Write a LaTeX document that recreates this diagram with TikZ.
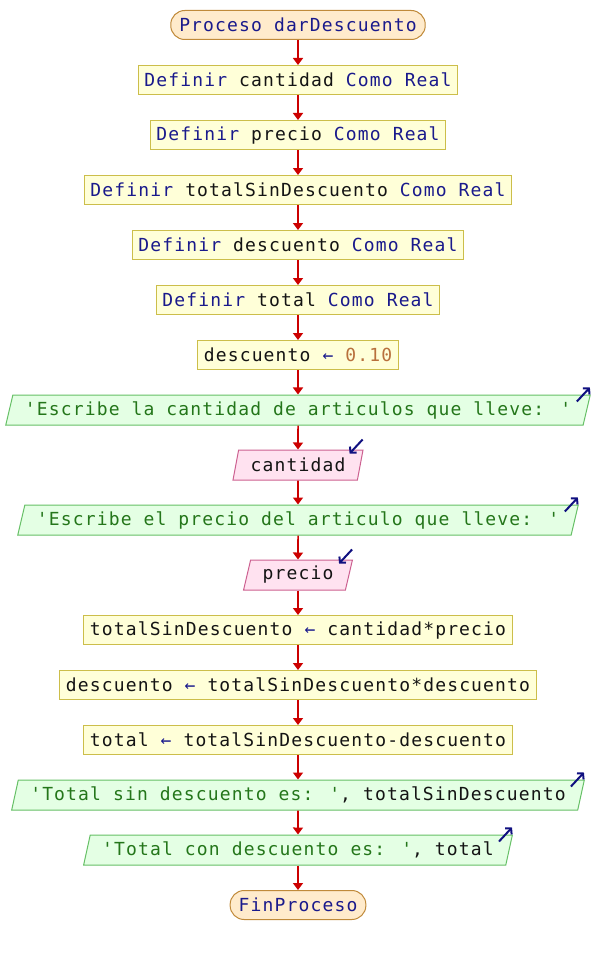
\documentclass[tikz,border=0pt]{standalone}
\usepackage{fontspec}
\usetikzlibrary{shapes.geometric,arrows.meta}
\newfontfamily\codefont[LetterSpace=6.4]{DejaVu Sans Mono}
\definecolor{kwc}{HTML}{1A1A8C}
\definecolor{strc}{HTML}{24761A}
\definecolor{numc}{HTML}{B8703C}
\definecolor{idc}{HTML}{141414}
\definecolor{procfill}{HTML}{FFFFD8}
\definecolor{procdraw}{HTML}{CCBE4A}
\definecolor{termfill}{HTML}{FFEBCC}
\definecolor{termdraw}{HTML}{C08A3A}
\definecolor{outfill}{HTML}{E4FFE4}
\definecolor{outdraw}{HTML}{66C066}
\definecolor{infill}{HTML}{FFE2F0}
\definecolor{indraw}{HTML}{CC6090}
\definecolor{flowc}{HTML}{CC0000}
\definecolor{ioarrow}{HTML}{101080}
\newcommand{\kw}[1]{\textcolor{kwc}{#1}}
\newcommand{\strg}[1]{\textcolor{strc}{#1}}
\newcommand{\numb}[1]{\textcolor{numc}{#1}}
\newcommand{\asg}{\textcolor{kwc}{←}}
\begin{document}
\begin{tikzpicture}[x=1pt,y=-1pt,
  every node/.style={font=\codefont\fontsize{18}{20}\selectfont, text=idc},
  procbox/.style={draw=procdraw, fill=procfill, line width=1pt, minimum height=29pt, inner xsep=6pt, inner ysep=0pt},
  termbox/.style={draw=termdraw, fill=termfill, line width=1pt, rounded corners=14pt, minimum height=29pt, inner xsep=8.5pt, inner ysep=0pt},
  iobox/.style={trapezium, trapezium stretches=true, trapezium left angle=68, trapezium right angle=112, line width=1pt, minimum height=30pt, inner xsep=12pt, inner ysep=0pt},
  outbox/.style={iobox, draw=outdraw, fill=outfill},
  inbox/.style={iobox, draw=indraw, fill=infill},
  flow/.style={draw=flowc, line width=1.6pt, -{Triangle[width=10pt,length=7pt]}},
  ioarr/.style={draw=ioarrow, line width=2pt, -{Straight Barb[length=4pt,width=9pt]}}
]
\useasboundingbox (0,0) rectangle (596,955);
\node[termbox] (n1) at (298,25) {\kw{Proceso darDescuento}};
\node[procbox] (n2) at (298,80) {\kw{Definir} cantidad \kw{Como} \kw{Real}};
\node[procbox] (n3) at (298,135) {\kw{Definir} precio \kw{Como} \kw{Real}};
\node[procbox] (n4) at (298,190) {\kw{Definir} totalSinDescuento \kw{Como} \kw{Real}};
\node[procbox] (n5) at (298,245) {\kw{Definir} descuento \kw{Como} \kw{Real}};
\node[procbox] (n6) at (298,300) {\kw{Definir} total \kw{Como} \kw{Real}};
\node[procbox] (n7) at (298,355) {descuento \asg{} \numb{0.10}};
\node[outbox] (n8) at (298,410) {\strg{'Escribe la cantidad de articulos que lleve: '}};
\node[inbox] (n9) at (298,465) {cantidad};
\node[outbox] (n10) at (298,520) {\strg{'Escribe el precio del articulo que lleve: '}};
\node[inbox] (n11) at (298,575) {precio};
\node[procbox] (n12) at (298,630) {totalSinDescuento \asg{} cantidad*precio};
\node[procbox] (n13) at (298,685) {descuento \asg{} totalSinDescuento*descuento};
\node[procbox] (n14) at (298,740) {total \asg{} totalSinDescuento-descuento};
\node[outbox] (n15) at (298,795) {\strg{'Total sin descuento es: '}, totalSinDescuento};
\node[outbox] (n16) at (298,850) {\strg{'Total con descuento es: '}, total};
\node[termbox] (n17) at (298,905) {\kw{FinProceso}};
\foreach \a/\b in {n1/n2,n2/n3,n3/n4,n4/n5,n5/n6,n6/n7,n7/n8,n8/n9,n9/n10,n10/n11,n11/n12,n12/n13,n13/n14,n14/n15,n15/n16,n16/n17}
  \draw[flow] (\a) -- (\b);
\foreach \n in {n8,n10,n15,n16}
  \draw[ioarr] ([shift={(-14,7)}]\n.top right corner) -- ([shift={(-1,-7)}]\n.top right corner);
\foreach \n in {n9,n11}
  \draw[ioarr] ([shift={(-1,-10)}]\n.top right corner) -- ([shift={(-14,4)}]\n.top right corner);
\end{tikzpicture}
\end{document}
